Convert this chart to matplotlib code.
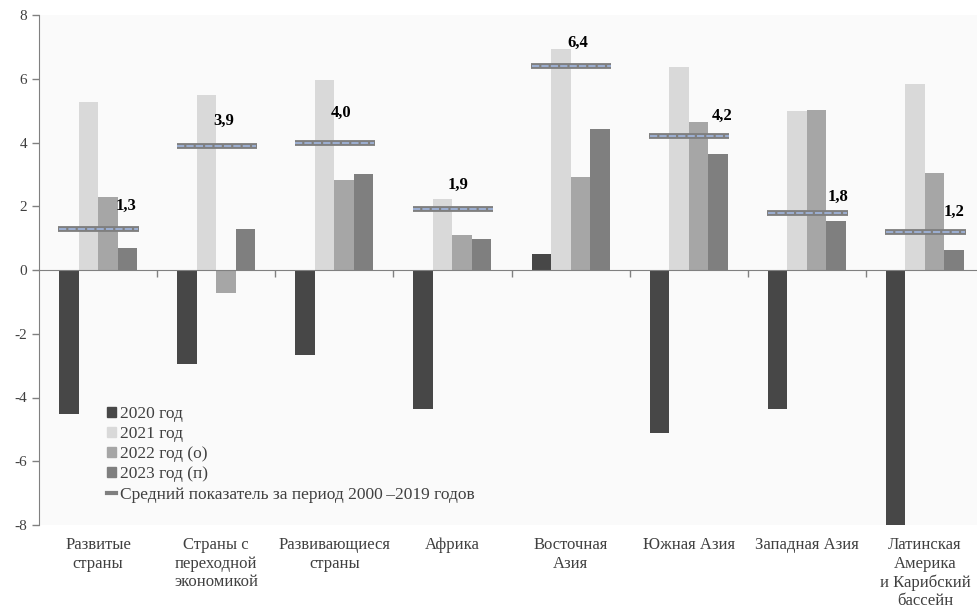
import matplotlib
matplotlib.use("Agg")
import matplotlib.pyplot as plt
from matplotlib.patches import Patch
from matplotlib.lines import Line2D
import numpy as np

plt.rcParams['font.family'] = ['Liberation Serif', 'DejaVu Serif']
plt.rcParams['axes.unicode_minus'] = False

# --- данные ---
categories = ["Развитые\nстраны", "Страны с\nпереходной\nэкономикой", "Развивающиеся\nстраны",
              "Африка", "Восточная\nАзия", "Южная Азия", "Западная Азия",
              "Латинская\nАмерика\nи Карибский\nбассейн"]
y2020 = [-4.53, -2.94, -2.68, -4.35, 0.50, -5.10, -4.35, -8.0]
y2021 = [5.26, 5.48, 5.96, 2.23, 6.92, 6.36, 5.00, 5.85]
y2022 = [2.30, -0.71, 2.82, 1.10, 2.92, 4.64, 5.02, 3.04]
y2023 = [0.69, 1.28, 3.00, 0.96, 4.41, 3.64, 1.55, 0.64]
avg_2000_2019 = [1.3, 3.9, 4.0, 1.9, 6.4, 4.2, 1.8, 1.2]
series_names = ["2020 год", "2021 год", "2022 год (о)", "2023 год (п)"]
mean_name = "Средний показатель за период 2000\u2009–2019 годов"

# --- оформление ---
colors = ["#474747", "#D9D9D9", "#A6A6A6", "#7F7F7F"]
text_col = "#404040"
bar_w = 0.165
# смещения подписей среднего (dx, dy), как в оригинале
label_offsets = [(0.24, 0.70), (0.06, 0.78), (0.06, 0.94), (0.05, 0.76),
                 (0.06, 0.73), (0.28, 0.64), (0.26, 0.48), (0.25, 0.63)]

fig = plt.figure(figsize=(9.77, 6.13), dpi=100, facecolor="white")
ax = fig.add_axes([39 / 977, 88 / 613, 945 / 977, 510 / 613])
ax.set_facecolor("#FAFAFA")

x = np.arange(len(categories)) + 0.5
for i, vals in enumerate([y2020, y2021, y2022, y2023]):
    ax.bar(x + (i - 1.5) * bar_w, vals, width=bar_w, color=colors[i],
           label=series_names[i], zorder=2)

# средний показатель
ax.hlines(avg_2000_2019, x - 2 * bar_w - 0.005, x + 2 * bar_w + 0.015,
          color="#7F7F7F", lw=4.2, zorder=3)
ax.hlines(avg_2000_2019, x - 2 * bar_w, x + 2 * bar_w + 0.01,
          color="#9FB2D8", lw=1.3, linestyles=(0, (4, 1.2)), zorder=4)
for xi, v, (dx, dy) in zip(x, avg_2000_2019, label_offsets):
    ax.text(xi + dx, v + dy, f"{v:.1f}".replace(".", ","), ha="center", va="center",
            fontsize=12, fontweight="bold", color="black", zorder=5)

ax.set_xlim(0, len(categories))
ax.set_ylim(-8, 8)
ax.set_yticks(range(-8, 9, 2))
ax.tick_params(axis="y", colors="#808080", labelcolor=text_col, labelsize=11,
               length=5, width=1)

for s in ["top", "right"]:
    ax.spines[s].set_visible(False)
ax.spines["left"].set_color("#808080")
ax.spines["bottom"].set_position(("data", 0))
ax.spines["bottom"].set_color("#808080")
ax.spines["bottom"].set_zorder(6)
ax.set_xticks(range(1, len(categories)))
ax.set_xticklabels([])
ax.tick_params(axis="x", colors="#808080", length=5, width=1, direction="out")

for xi, cat in zip(x, categories):
    ax.text(xi, -0.024, cat, transform=ax.get_xaxis_transform(), ha="center", va="top",
            fontsize=12, color=text_col, linespacing=1.2)

handles = [Patch(color=c) for c in colors] + [Line2D([0], [0], color="#7F7F7F", lw=3)]
leg = ax.legend(handles, series_names + [mean_name], loc="upper left",
                bbox_to_anchor=(0.065, 0.247), frameon=False, fontsize=12.5,
                handlelength=0.5, handleheight=0.5, handletextpad=0.2,
                labelspacing=0.24, borderaxespad=0)
for t in leg.get_texts():
    t.set_color(text_col)

fig.savefig("out.png", dpi=100, facecolor="white")
